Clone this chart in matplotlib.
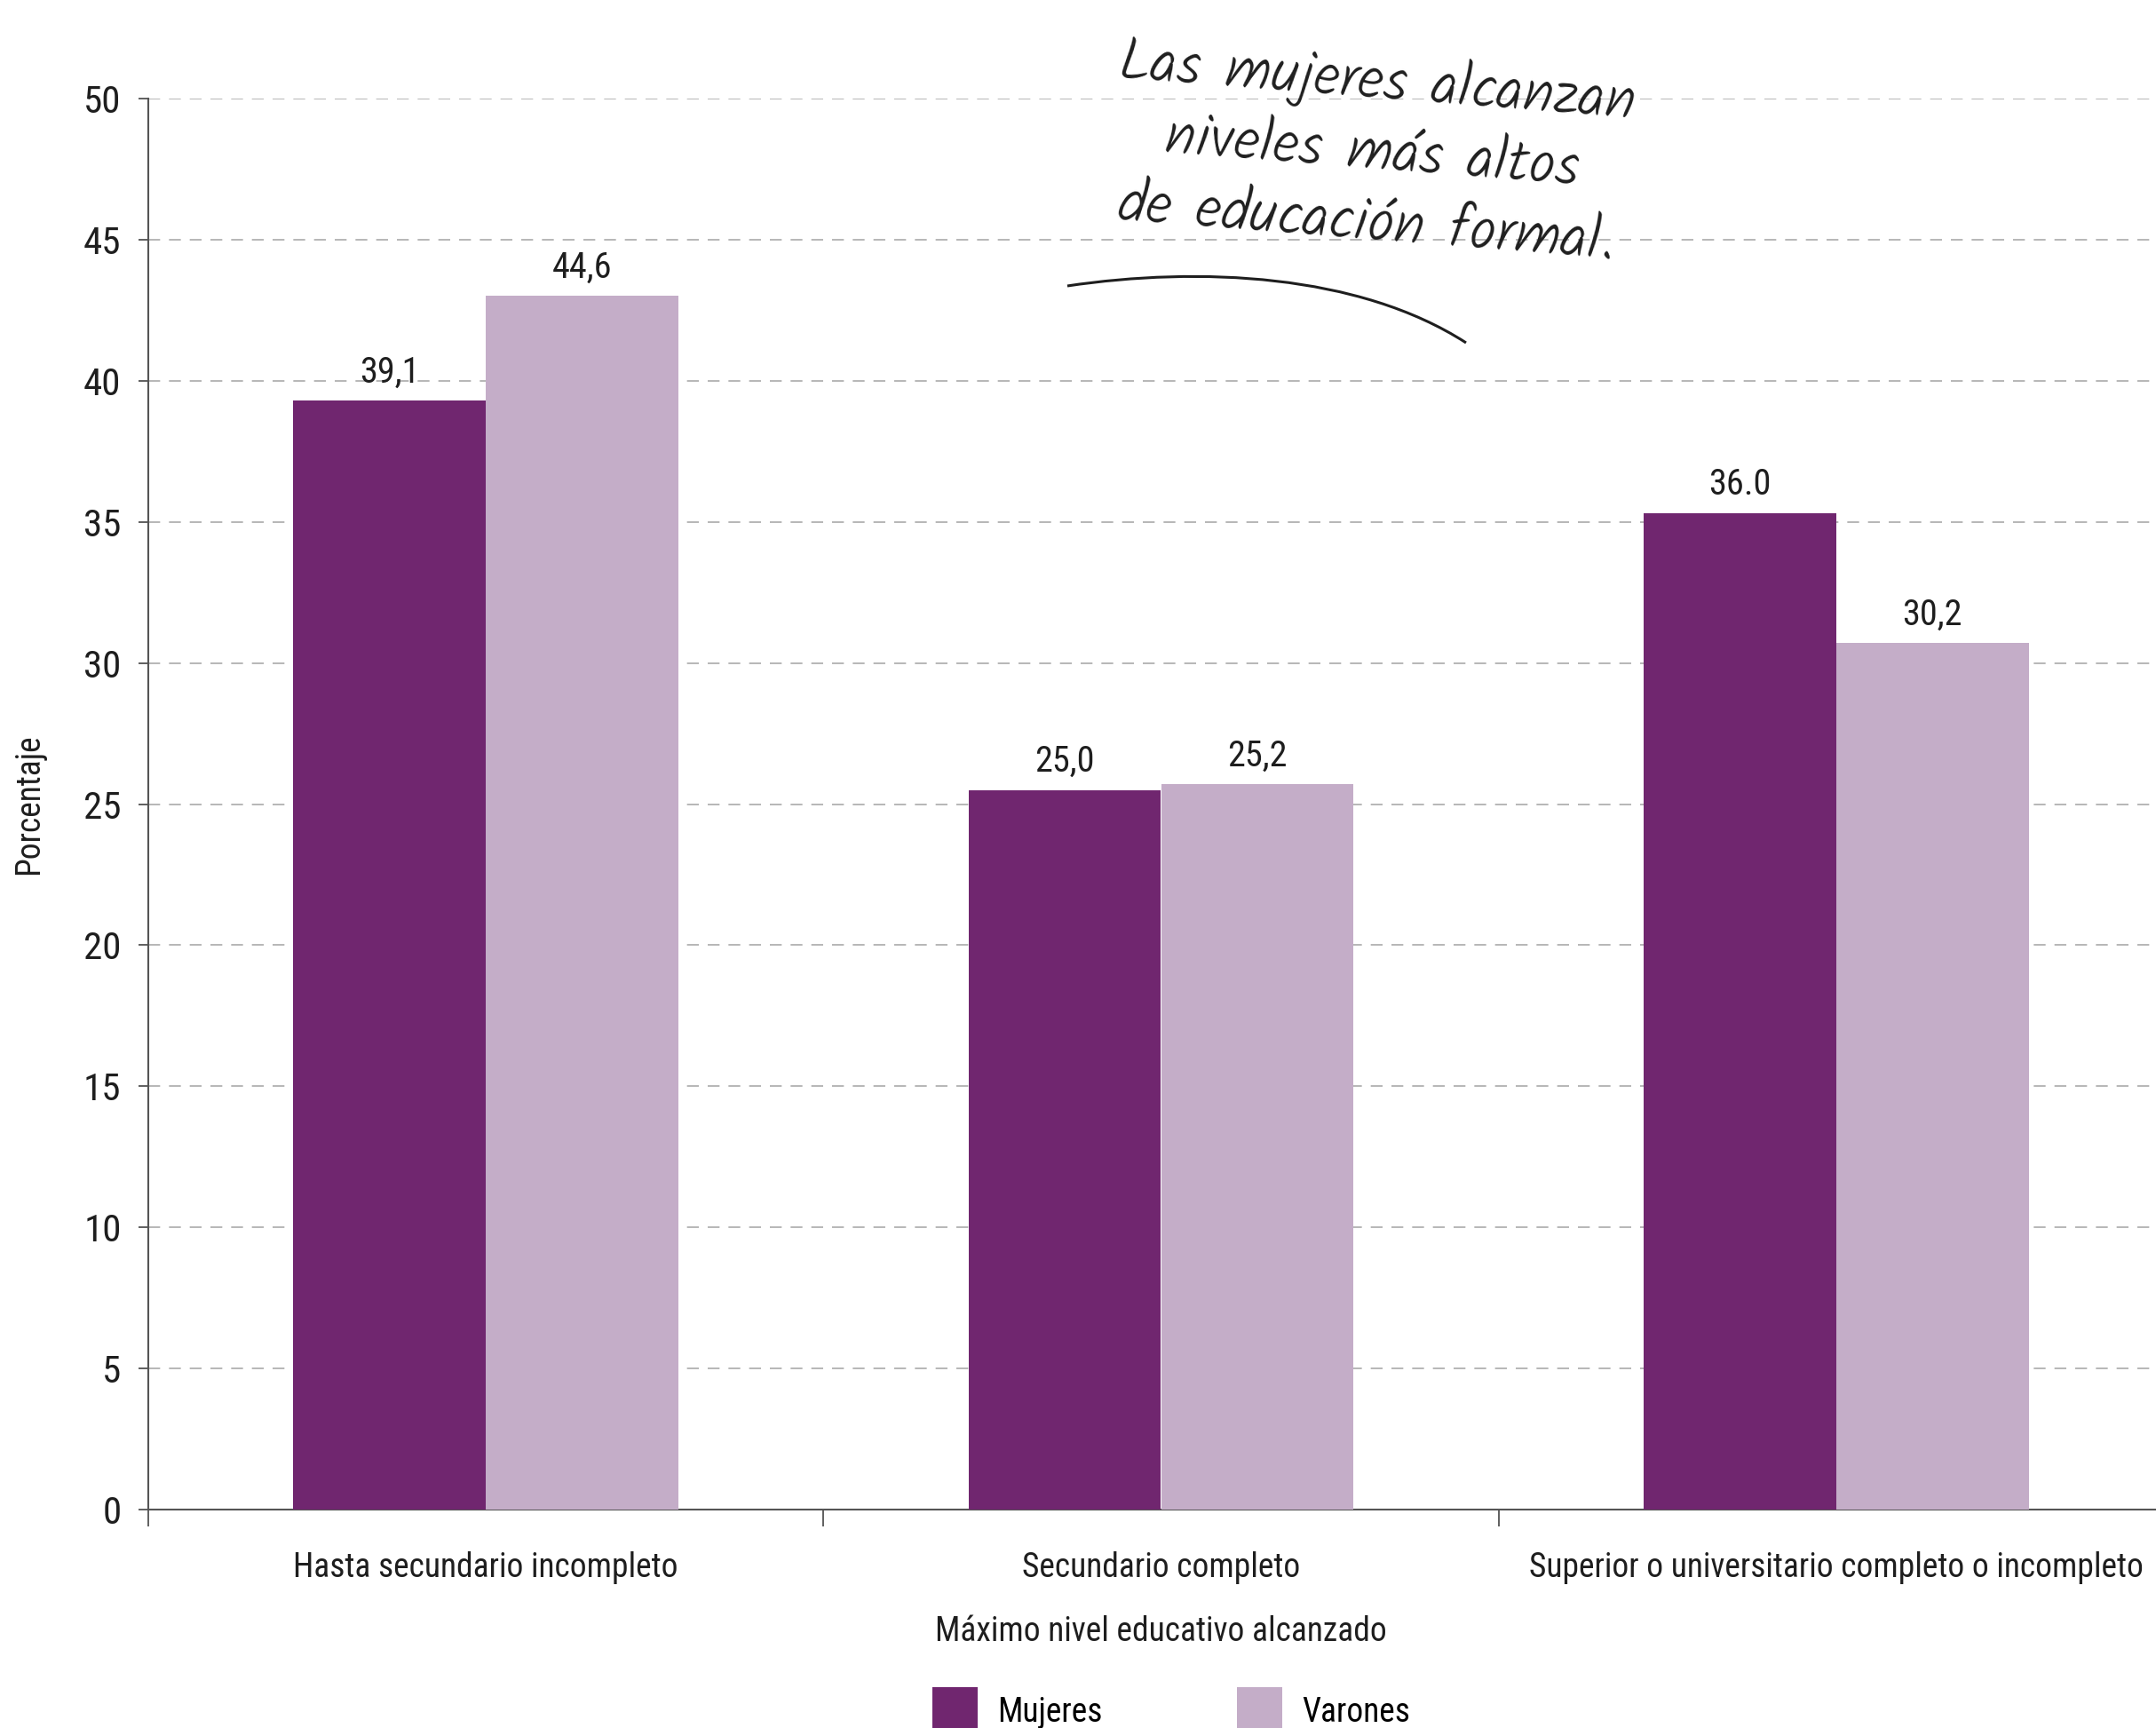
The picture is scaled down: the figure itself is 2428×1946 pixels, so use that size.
import numpy as np
import matplotlib
matplotlib.use("Agg")
import matplotlib.pyplot as plt
from matplotlib.path import Path
from matplotlib.patches import PathPatch

# data
categories = ["Hasta secundario incompleto", "Secundario completo",
              "Superior o universitario completo o incompleto"]
mujeres = [39.3, 25.5, 35.3]          # bar heights as drawn
varones = [43.0, 25.7, 30.7]
mujeres_labels = ["39,1", "25,0", "36.0"]   # printed labels
varones_labels = ["44,6", "25,2", "30,2"]
yticks = [0, 5, 10, 15, 20, 25, 30, 35, 40, 45, 50]

COL_M = "#70266f"
COL_V = "#c4adc8"
FONT = ["Roboto Condensed", "Archivo Narrow", "DejaVu Sans"]
HAND = ["Kalam", "Patrick Hand", "Caveat", "DejaVu Sans"]
TXT = "#1e1e1e"

W, H = 2428, 1946
fig = plt.figure(figsize=(W / 100, H / 100), dpi=100)
ax = fig.add_axes([167 / W, 246 / H, (2448 - 167) / W, (1700 - 111) / H])

x = np.arange(len(categories))
bw = 0.285
ax.bar(x - bw / 2, mujeres, bw, color=COL_M, label="Mujeres", zorder=3)
ax.bar(x + bw / 2, varones, bw, color=COL_V, label="Varones", zorder=3)

for i in range(len(categories)):
    ax.text(x[i] - bw / 2, mujeres[i] + 0.4, mujeres_labels[i], ha="center",
            va="bottom", fontsize=29, family=FONT, color=TXT)
    ax.text(x[i] + bw / 2, varones[i] + 0.4, varones_labels[i], ha="center",
            va="bottom", fontsize=29, family=FONT, color=TXT)

ax.set_xlim(-0.5, 2.5)
ax.set_ylim(0, 50)
ax.set_yticks(yticks)
ax.set_yticklabels([str(v) for v in yticks], family=FONT, fontsize=31,
                   color=TXT)
for v in yticks[1:]:
    ax.axhline(v, color="#aaaaaa", lw=1.2, ls=(0, (8, 6)), zorder=1)

# category labels in the middle, ticks on the boundaries
ax.set_xticks([-0.5, 0.5, 1.5, 2.5])
ax.set_xticklabels([])
ax.tick_params(axis="x", length=14, width=1.2, color="#444444")
ax.tick_params(axis="y", length=8, width=1.2, color="#444444", pad=14)
ax.set_xticks(x, minor=True)
ax.set_xticklabels(categories, minor=True, family=FONT, fontsize=27,
                   color=TXT)
ax.tick_params(axis="x", which="minor", length=0, pad=34)

for s in ("top", "right"):
    ax.spines[s].set_visible(False)
for s in ("left", "bottom"):
    ax.spines[s].set_color("#555555")
    ax.spines[s].set_linewidth(1.5)
ax.spines["left"].set_bounds(0, 50)

ax.set_xlabel("Máximo nivel educativo alcanzado", family=FONT, fontsize=27,
              color=TXT, labelpad=25)
ax.set_ylabel("Porcentaje", family=FONT, fontsize=27, color=TXT,
              labelpad=31)

fig.legend(loc="upper left", bbox_to_anchor=(1050 / W, 1 - 1900 / H),
           ncol=2, frameon=False, prop={"family": FONT, "size": 27},
           handlelength=1.35, handleheight=1.8, handletextpad=0.6,
           columnspacing=4.05, borderpad=0, borderaxespad=0)

# handwritten note
fig.text(1545 / W, 1 - 172 / H,
         "Las mujeres alcanzan\nniveles más altos\nde educación formal.",
         ha="center", va="center", rotation=-4.5, rotation_mode="anchor",
         family=HAND, fontweight="light", fontsize=48, color=TXT,
         linespacing=1.2, multialignment="center")

pts = [(1202, 322), (1350, 300), (1530, 308), (1651, 386)]
verts = [(px / W, 1 - py / H) for px, py in pts]
curve = Path(verts, [Path.MOVETO, Path.CURVE4, Path.CURVE4, Path.CURVE4])
fig.patches.append(PathPatch(curve, transform=fig.transFigure, fill=False,
                             lw=2.2, color=TXT))

fig.savefig("out.png", dpi=100)
